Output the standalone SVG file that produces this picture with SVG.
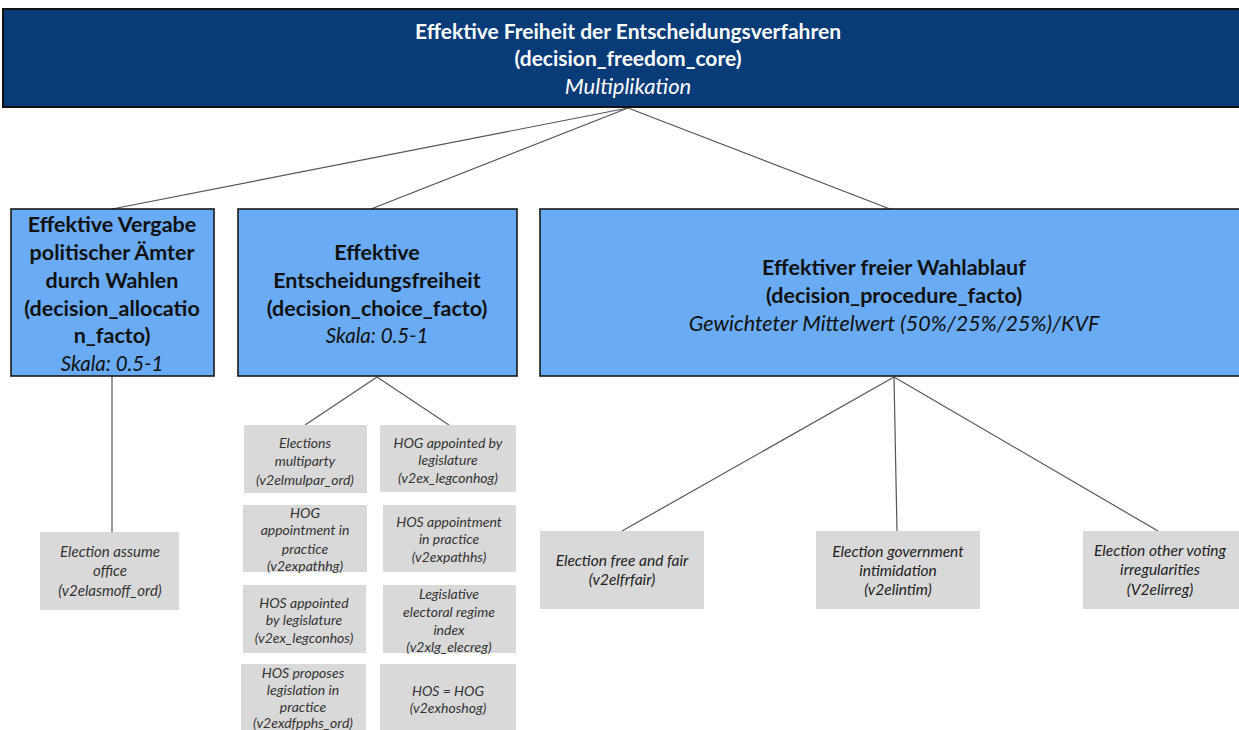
<svg xmlns="http://www.w3.org/2000/svg" width="1239" height="730" viewBox="0 0 1239 730">
<style>
.top{fill:#083c78;stroke:#111;stroke-width:2}
.blue{fill:#69abf5;stroke:#1a1a1a;stroke-width:1.6}
.gray{fill:#d9d9d9}
.tt{font-family:Lato,"Open Sans",sans-serif;font-size:21px;font-weight:bold;fill:#fff;text-anchor:middle}
.ti{font-family:Lato,"Open Sans",sans-serif;font-size:22px;font-style:italic;fill:#fff;text-anchor:middle}
.bt{font-family:Lato,"Open Sans",sans-serif;font-size:21.5px;font-weight:bold;fill:#111;text-anchor:middle}
.bi{font-family:Lato,"Open Sans",sans-serif;font-size:20.5px;font-style:italic;fill:#111;text-anchor:middle}
.gt{font-family:Lato,"Open Sans",sans-serif;font-size:14px;font-style:italic;fill:#333;text-anchor:middle}
.gl{font-family:Lato,"Open Sans",sans-serif;font-size:15px;font-style:italic;fill:#333;text-anchor:middle}
.gr{font-family:Lato,"Open Sans",sans-serif;font-size:15.5px;font-style:italic;fill:#222;text-anchor:middle}
.c{stroke:#555;stroke-width:1.2;fill:none}
</style>
<rect width="1239" height="730" fill="#fff"/>
<g id="connectors">
<line class="c" x1="628" y1="108" x2="112" y2="209"/>
<line class="c" x1="628" y1="108" x2="371" y2="209"/>
<line class="c" x1="628" y1="108" x2="890" y2="209"/>
<line class="c" x1="112" y1="376" x2="112" y2="532"/>
<line class="c" x1="377" y1="377" x2="305" y2="425"/>
<line class="c" x1="377" y1="377" x2="449" y2="425"/>
<line class="c" x1="894" y1="377" x2="622" y2="531"/>
<line class="c" x1="894" y1="377" x2="897" y2="531"/>
<line class="c" x1="894" y1="377" x2="1158" y2="531"/>
</g>
<g id="n_core">
<rect class="top" x="3" y="9" width="1240" height="98"/>
<text class="tt" x="628" y="39">Effektive Freiheit der Entscheidungsverfahren</text>
<text class="tt" x="628" y="66">(decision_freedom_core)</text>
<text class="ti" x="628" y="94">Multiplikation</text>
</g>
<g id="n_allocation">
<rect class="blue" x="11" y="209" width="203" height="167"/>
<text class="bt" x="112" y="232">Effektive Vergabe</text>
<text class="bt" x="112" y="260">politischer Ämter</text>
<text class="bt" x="112" y="288">durch Wahlen</text>
<text class="bt" x="112" y="316">(decision_allocatio</text>
<text class="bt" x="112" y="343">n_facto)</text>
<text class="bi" x="112" y="371">Skala: 0.5-1</text>
</g>
<g id="n_choice">
<rect class="blue" x="238" y="209" width="279" height="167"/>
<text class="bt" x="377" y="260">Effektive</text>
<text class="bt" x="377" y="288">Entscheidungsfreiheit</text>
<text class="bt" x="377" y="316">(decision_choice_facto)</text>
<text class="bi" x="377" y="343">Skala: 0.5-1</text>
</g>
<g id="n_procedure">
<rect class="blue" x="540" y="209" width="704" height="167"/>
<text class="bt" x="894" y="275">Effektiver freier Wahlablauf</text>
<text class="bt" x="894" y="303">(decision_procedure_facto)</text>
<text class="bi" x="894" y="331" style="font-size:21.5px">Gewichteter Mittelwert (50%/25%/25%)/KVF</text>
</g>
<g id="n_asmoff">
<rect class="gray" x="40" y="532" width="139" height="78"/>
<text class="gl" x="110" y="557">Election assume</text>
<text class="gl" x="110" y="576">office</text>
<text class="gl" x="110" y="596">(v2elasmoff_ord)</text>
</g>
<g id="n_mulpar">
<rect class="gray" x="244" y="425" width="123" height="68"/>
<text class="gt" x="305" y="448">Elections</text>
<text class="gt" x="305" y="466">multiparty</text>
<text class="gt" x="305" y="485">(v2elmulpar_ord)</text>
</g>
<g id="n_legconhog">
<rect class="gray" x="380" y="425" width="136" height="67"/>
<text class="gt" x="448" y="448">HOG appointed by</text>
<text class="gt" x="448" y="465">legislature</text>
<text class="gt" x="448" y="483">(v2ex_legconhog)</text>
</g>
<g id="n_expathhg">
<rect class="gray" x="243" y="505" width="124" height="67"/>
<text class="gt" x="305" y="518">HOG</text>
<text class="gt" x="305" y="535">appointment in</text>
<text class="gt" x="305" y="554">practice</text>
<text class="gt" x="305" y="571">(v2expathhg)</text>
</g>
<g id="n_expathhs">
<rect class="gray" x="383" y="505" width="133" height="67"/>
<text class="gt" x="449" y="527">HOS appointment</text>
<text class="gt" x="449" y="544">in practice</text>
<text class="gt" x="449" y="562">(v2expathhs)</text>
</g>
<g id="n_legconhos">
<rect class="gray" x="243" y="585" width="123" height="68"/>
<text class="gt" x="304" y="608">HOS appointed</text>
<text class="gt" x="304" y="625">by legislature</text>
<text class="gt" x="304" y="643">(v2ex_legconhos)</text>
</g>
<g id="n_elecreg">
<rect class="gray" x="383" y="585" width="133" height="68"/>
<text class="gt" x="449" y="599">Legislative</text>
<text class="gt" x="449" y="617">electoral regime</text>
<text class="gt" x="449" y="635">index</text>
<text class="gt" x="449" y="652">(v2xlg_elecreg)</text>
</g>
<g id="n_dfpphs">
<rect class="gray" x="241" y="664" width="125" height="70"/>
<text class="gt" x="303" y="678">HOS proposes</text>
<text class="gt" x="303" y="695">legislation in</text>
<text class="gt" x="303" y="712">practice</text>
<text class="gt" x="303" y="728">(v2exdfpphs_ord)</text>
</g>
<g id="n_hoshog">
<rect class="gray" x="380" y="664" width="136" height="70"/>
<text class="gt" x="448" y="696">HOS = HOG</text>
<text class="gt" x="448" y="713">(v2exhoshog)</text>
</g>
<g id="n_frfair">
<rect class="gray" x="540" y="531" width="164" height="78"/>
<text class="gr" x="622" y="566">Election free and fair</text>
<text class="gr" x="622" y="585">(v2elfrfair)</text>
</g>
<g id="n_intim">
<rect class="gray" x="816" y="531" width="164" height="78"/>
<text class="gr" x="898" y="557">Election government</text>
<text class="gr" x="898" y="576">intimidation</text>
<text class="gr" x="898" y="595">(v2elintim)</text>
</g>
<g id="n_irreg">
<rect class="gray" x="1083" y="531" width="160" height="78"/>
<text class="gr" x="1160" y="556">Election other voting</text>
<text class="gr" x="1160" y="575">irregularities</text>
<text class="gr" x="1160" y="595">(V2elirreg)</text>
</g>
</svg>
